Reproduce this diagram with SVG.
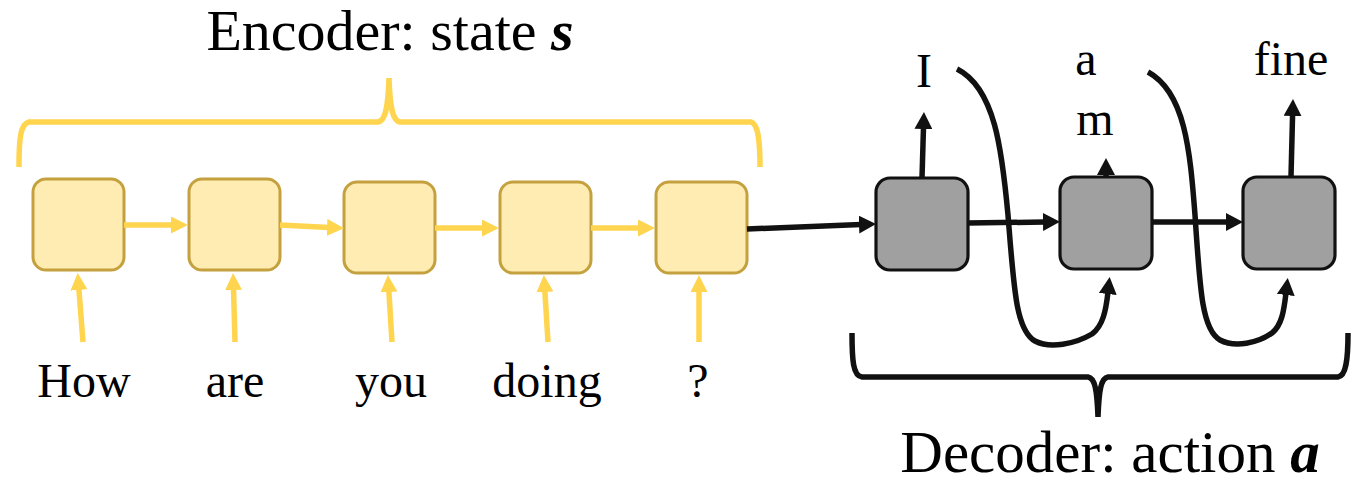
<svg xmlns="http://www.w3.org/2000/svg" width="1358" height="483" viewBox="0 0 1358 483">
  <style>
    .enc { fill: #FFECB3; stroke: #C4A03E; stroke-width: 3; }
    .dec { fill: #A0A0A0; stroke: #111111; stroke-width: 3.2; }
    .yl { fill: none; stroke: #FFD54F; stroke-width: 5.5; }
    .bk { fill: none; stroke: #111111; stroke-width: 5.5; }
    .ya { marker-end: url(#ahY); }
    .ba { marker-end: url(#ahB); }
    .lbl { font-family: "Liberation Serif", "Times New Roman", serif; font-size: 48px; fill: #000; text-anchor: middle; }
    .ttl { font-family: "Liberation Serif", "Times New Roman", serif; fill: #000; text-anchor: middle; }
    .var { font-weight: bold; font-style: italic; }
  </style>
  <defs>
    <marker id="ahY" markerUnits="userSpaceOnUse" markerWidth="17" markerHeight="17" refX="2" refY="8.5" orient="auto">
      <path d="M0,0 L17,8.5 L0,17 z" fill="#FFD54F"/>
    </marker>
    <marker id="ahB" markerUnits="userSpaceOnUse" markerWidth="17" markerHeight="18" refX="2" refY="9" orient="auto">
      <path d="M0,0 L17,9 L0,18 z" fill="#111111"/>
    </marker>
  </defs>

  <!-- encoder brace and title -->
  <g id="encoder-brace">
    <path class="yl" d="M19,167 C19,140 20,124 29,122 L378,122 C385,121 388,110 389,78 C390,110 393,121 400,122 L751,122 C758,124 760,140 760,167"/>
    <text class="ttl" x="390" y="50" font-size="58">Encoder: state <tspan class="var">s</tspan></text>
  </g>

  <!-- encoder cells -->
  <g id="enc1"><rect class="enc" x="33" y="179" width="91" height="91" rx="13"/></g>
  <g id="enc2"><rect class="enc" x="189" y="179" width="91" height="91" rx="13"/></g>
  <g id="enc3"><rect class="enc" x="344" y="182" width="91" height="91" rx="13"/></g>
  <g id="enc4"><rect class="enc" x="500" y="182" width="91" height="91" rx="13"/></g>
  <g id="enc5"><rect class="enc" x="656" y="182" width="91" height="91" rx="13"/></g>

  <!-- input tokens -->
  <g id="in-how"><text class="lbl" x="84" y="397">How</text></g>
  <g id="in-are"><text class="lbl" x="235" y="397">are</text></g>
  <g id="in-you"><text class="lbl" x="391" y="397">you</text></g>
  <g id="in-doing"><text class="lbl" x="547" y="397">doing</text></g>
  <g id="in-q"><text class="lbl" x="698" y="397">?</text></g>

  <!-- decoder cells -->
  <g id="dec1"><rect class="dec" x="876" y="178" width="92" height="92" rx="14"/></g>
  <g id="dec2"><rect class="dec" x="1060" y="177" width="92" height="92" rx="14"/></g>
  <g id="dec3"><rect class="dec" x="1243" y="177" width="92" height="92" rx="14"/></g>

  <!-- output tokens -->
  <g id="out-i"><text class="lbl" x="924" y="87">I</text></g>
  <g id="out-am">
    <text class="lbl" x="1086" y="75">a</text>
    <text class="lbl" x="1095" y="135">m</text>
  </g>
  <g id="out-fine"><text class="lbl" x="1291" y="75">fine</text></g>

  <!-- decoder brace and title -->
  <g id="decoder-brace">
    <path class="bk" d="M852,333 C852,360 853,376 862,377 L1088,377 C1095,378 1097,390 1098,417 C1099,390 1101,378 1108,377 L1338,377 C1346,376 1348,360 1348,333"/>
    <text class="ttl" x="1110" y="472" font-size="59">Decoder: action <tspan class="var">a</tspan></text>
  </g>

  <!-- connectors -->
  <g id="connectors">
    <!-- encoder recurrence -->
    <path class="yl ya" d="M124,225 L173,225"/>
    <path class="yl ya" d="M280,225 L329,227.5"/>
    <path class="yl ya" d="M435,228 L484,228"/>
    <path class="yl ya" d="M591,228 L640,228"/>
    <!-- token inputs -->
    <path class="yl ya" d="M83,342 L78.8,288"/>
    <path class="yl ya" d="M235,342 L233.5,288"/>
    <path class="yl ya" d="M392,342 L388.8,290"/>
    <path class="yl ya" d="M548,342 L544.8,290"/>
    <path class="yl ya" d="M699,342 L699,290"/>
    <!-- encoder to decoder and decoder recurrence -->
    <path class="bk ba" d="M747,229 L861,224.5"/>
    <path class="bk ba" d="M968,223 L1045,222"/>
    <path class="bk ba" d="M1152,222 L1228,222"/>
    <!-- decoder outputs -->
    <path class="bk ba" d="M922,178 L923.5,127"/>
    <path class="bk ba" d="M1106,177 L1106,173"/>
    <path class="bk ba" d="M1291,177 L1292.6,114"/>
    <!-- output fed back as next input -->
    <path class="bk ba" d="M957,69 C995,88 1002,150 1008,215 C1014,290 1016,330 1035,341 C1050,349 1075,344 1092,334 C1103,326 1106,310 1108,292"/>
    <path class="bk ba" d="M1148,72 C1185,92 1190,150 1195,215 C1200,290 1202,330 1220,340 C1235,348 1258,343 1272,333 C1282,325 1284,310 1286,293"/>
  </g>
</svg>
